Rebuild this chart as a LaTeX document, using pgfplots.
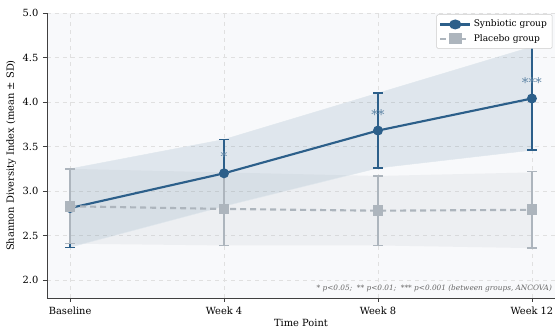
\documentclass[border=0pt]{standalone}
\usepackage{pgfplots}
\pgfplotsset{compat=1.18}
\usepgfplotslibrary{fillbetween}
\usepackage{fontspec}
\setmainfont{DejaVu Serif}
\definecolor{syn}{HTML}{2C5F8A}
\definecolor{plc}{HTML}{ADB5BD}
\definecolor{bg}{HTML}{F8F9FB}
\begin{document}
\begin{tikzpicture}
\begin{axis}[
 scale only axis, width=381pt, height=213.75pt,
 xmin=-0.15, xmax=3.15, ymin=1.8, ymax=5.0,
 xtick={0,1,2,3}, xticklabels={Baseline,Week 4,Week 8,Week 12},
 ytick={2,2.5,3,3.5,4,4.5,5},
 yticklabel style={/pgf/number format/.cd,fixed,fixed zerofill,precision=1},
 /pgf/number format/assume math mode=true,
 axis x line*=bottom, axis y line*=left,
 axis line style={line width=0.6pt, black!75},
 tick align=outside, major tick length=3pt,
 tick style={black!75, line width=0.5pt},
 axis background/.style={fill=bg},
 grid=major, grid style={dashed, black!12, line width=0.4pt},
 tick label style={font=\fontsize{7.4}{8}\selectfont},
 label style={font=\fontsize{7.4}{8}\selectfont},
 xlabel={Time Point}, ylabel={Shannon Diversity Index (mean ± SD)},
 xlabel style={yshift=3pt},
 ylabel style={yshift=-2pt},
 legend style={at={(0.995,0.995)}, anchor=north east, font=\fontsize{6.8}{8}\selectfont, draw=black!20, fill=white, rounded corners=1pt, row sep=0pt, inner sep=2pt},
 legend cell align=left,
 legend image post style={xscale=1.3},
]
% bands
\addplot[name path=su, draw=syn!15, line width=0.3pt, forget plot] coordinates {(0,3.25)(1,3.58)(2,4.10)(3,4.62)};
\addplot[name path=sl, draw=syn!15, line width=0.3pt, forget plot] coordinates {(0,2.37)(1,2.83)(2,3.26)(3,3.46)};
\addplot[fill=syn, fill opacity=0.12, draw=none, forget plot] fill between[of=su and sl];
\addplot[name path=pu, draw=none, forget plot] coordinates {(0,3.25)(1,3.21)(2,3.17)(3,3.21)};
\addplot[name path=pl, draw=none, forget plot] coordinates {(0,2.41)(1,2.39)(2,2.39)(3,2.36)};
\addplot[fill=plc, fill opacity=0.14, draw=none, forget plot] fill between[of=pu and pl];
% synbiotic
\addplot[syn, line width=1.6pt, mark=*, mark size=2.9pt,
  error bars/.cd, y dir=both, y explicit,
  error bar style={line width=1.3pt, syn},
  error mark options={rotate=90, mark size=3.6pt, line width=1pt, syn}]
  coordinates {(0,2.81) +- (0,0.44) (1,3.20) +- (0,0.38) (2,3.68) +- (0,0.42) (3,4.04) +- (0,0.58)};
\addlegendentry{Synbiotic group}
% placebo
\addplot[plc, line width=1.6pt, dashed, dash pattern=on 4.5pt off 3pt, mark=square*, mark size=3.2pt, mark options={solid},
  error bars/.cd, y dir=both, y explicit,
  error bar style={line width=1.4pt, plc, solid},
  error mark options={rotate=90, mark size=3.6pt, line width=1pt, plc, solid}]
  coordinates {(0,2.83) +- (0,0.42) (1,2.80) +- (0,0.41) (2,2.78) +- (0,0.39) (3,2.79) +- (0,0.43)};
\addlegendentry{Placebo group}
% significance
\node[text=syn!75, font=\fontsize{10}{11}\selectfont] at (axis cs:1,3.39) {*};
\node[text=syn!75, font=\fontsize{10}{11}\selectfont] at (axis cs:2,3.86) {**};
\node[text=syn!75, font=\fontsize{10}{11}\selectfont] at (axis cs:3,4.22) {***};
\node[anchor=south east, font=\itshape\fontsize{5.5}{6}\selectfont, text=black!60, inner sep=1pt] at (rel axis cs:0.997,0.015) {* p<0.05;\ \ ** p<0.01;\ \ *** p<0.001 (between groups, ANCOVA)};
\end{axis}
\pgfresetboundingbox
\path[use as bounding box] ([xshift=-35.25pt,yshift=-24.75pt]current axis.south west) rectangle ([xshift=1.5pt,yshift=9.75pt]current axis.north east);
\end{tikzpicture}
\end{document}
